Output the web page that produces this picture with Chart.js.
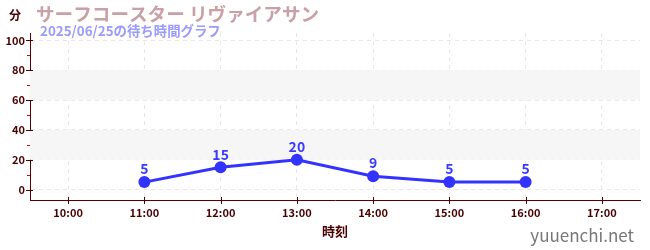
<!DOCTYPE html>
<html>
<head>
<meta charset="utf-8">
<script src="https://cdn.jsdelivr.net/npm/chart.js@4"></script>
<style>
  html, body { margin: 0; padding: 0; background: #fff; }
  #wrap { width: 650px; height: 250px; position: relative; }
</style>
</head>
<body>
<div id="wrap"><canvas id="waitChart" width="650" height="250"></canvas></div>
<script>
const FONT = '"Noto Sans CJK JP", "Noto Sans", sans-serif';

// データ
const hours = ['10:00', '11:00', '12:00', '13:00', '14:00', '15:00', '16:00', '17:00'];
const waitMinutes = [null, 5, 15, 20, 9, 5, 5, null];
const yTicks = [0, 20, 40, 60, 80, 100];
const yMinorTicks = [10, 30, 50, 70, 90];
const bands = [[20, 40], [60, 80]];

const titleText = 'サーフコースター リヴァイアサン';
const subTitleText = '2025/06/25の待ち時間グラフ';

// 背景の帯・補助目盛り・ラベル
const decorPlugin = {
    id: 'decor',
    beforeDatasetsDraw(chart) {
        const { ctx, chartArea, scales } = chart;
        const y = scales.y;
        ctx.save();
        ctx.fillStyle = '#f6f6f6';
        bands.forEach(b => {
            const top = y.getPixelForValue(b[1]);
            const bot = y.getPixelForValue(b[0]);
            ctx.fillRect(chartArea.left, top, chartArea.right - chartArea.left, bot - top);
        });
        ctx.restore();
    },
    afterDraw(chart) {
        const { ctx, chartArea, scales } = chart;
        const y = scales.y;
        const x = scales.x;
        ctx.save();
        // 目盛り
        ctx.lineWidth = 1;
        ctx.strokeStyle = '#4a0000';
        yTicks.forEach(v => {
            const py = Math.round(y.getPixelForValue(v)) + 0.5;
            ctx.beginPath();
            ctx.moveTo(chartArea.left - 4, py);
            ctx.lineTo(chartArea.left + 3, py);
            ctx.stroke();
        });
        ctx.strokeStyle = '#e00000';
        yMinorTicks.forEach(v => {
            const py = Math.round(y.getPixelForValue(v)) + 0.5;
            ctx.beginPath();
            ctx.moveTo(chartArea.left - 3, py);
            ctx.lineTo(chartArea.left, py);
            ctx.stroke();
        });
        ctx.strokeStyle = '#4a0000';
        hours.forEach((h, i) => {
            const px = Math.round(x.getPixelForValue(i)) + 0.5;
            ctx.beginPath();
            ctx.moveTo(px, chartArea.bottom - 3);
            ctx.lineTo(px, chartArea.bottom + 4);
            ctx.stroke();
        });

        // 値ラベル
        const meta = chart.getDatasetMeta(0);
        ctx.fillStyle = '#3a3aff';
        ctx.font = 'bold 14px ' + FONT;
        ctx.textAlign = 'center';
        ctx.textBaseline = 'bottom';
        meta.data.forEach((pt, i) => {
            if (waitMinutes[i] == null) return;
            ctx.fillText(String(waitMinutes[i]), pt.x, pt.y - 6);
        });

        // タイトル
        ctx.textAlign = 'left';
        ctx.textBaseline = 'alphabetic';
        ctx.fillStyle = '#c8a0a6';
        ctx.font = 'bold 18.6px ' + FONT;
        ctx.fillText(titleText, 36, 21);
        ctx.fillStyle = '#9a9aff';
        ctx.font = 'bold 13.4px ' + FONT;
        ctx.fillText(subTitleText, 40, 36);

        ctx.fillStyle = '#4a0000';
        ctx.font = 'bold 12px ' + FONT;
        ctx.fillText('分', 9, 20);

        ctx.textAlign = 'center';
        ctx.font = 'bold 13px ' + FONT;
        ctx.fillText('時刻', (chartArea.left + chartArea.right) / 2, 236);

        ctx.textAlign = 'right';
        ctx.fillStyle = '#777';
        ctx.font = '17px ' + FONT;
        ctx.fillText('yuuenchi.net', 634, 242);
        ctx.restore();
    }
};

new Chart(document.getElementById('waitChart'), {
    type: 'line',
    data: {
        labels: hours,
        datasets: [{
            data: waitMinutes,
            borderColor: '#3333ff',
            backgroundColor: '#3333ff',
            borderWidth: 3,
            pointRadius: 6,
            pointHoverRadius: 6,
            pointBackgroundColor: '#3333ff',
            pointBorderWidth: 0,
            tension: 0,
            spanGaps: false
        }]
    },
    options: {
        responsive: false,
        animation: false,
        events: [],
        layout: { padding: { left: 0, right: 10, top: 33, bottom: 0 } },
        plugins: {
            legend: { display: false },
            tooltip: { enabled: false }
        },
        scales: {
            x: {
                offset: true,
                grid: {
                    offset: false,
                    color: '#e8e8e8',
                    drawTicks: false
                },
                border: { color: '#5a0000', width: 1, dash: [4, 4] },
                ticks: {
                    color: '#4a0000',
                    font: { family: FONT, size: 11, weight: 'bold' },
                    padding: 6,
                    maxRotation: 0
                },
                afterFit(scale) { scale.height = 50; }
            },
            y: {
                min: -7,
                max: 105,
                afterBuildTicks(scale) {
                    scale.ticks = yTicks.map(v => ({ value: v }));
                },
                grid: {
                    color: '#e8e8e8',
                    drawTicks: false
                },
                border: { color: '#5a0000', width: 1, dash: [4, 4] },
                ticks: {
                    color: '#4a0000',
                    font: { family: FONT, size: 11, weight: 'bold' },
                    padding: 5
                },
                afterFit(scale) { scale.width = 30; }
            }
        }
    },
    plugins: [decorPlugin]
});
</script>
</body>
</html>
